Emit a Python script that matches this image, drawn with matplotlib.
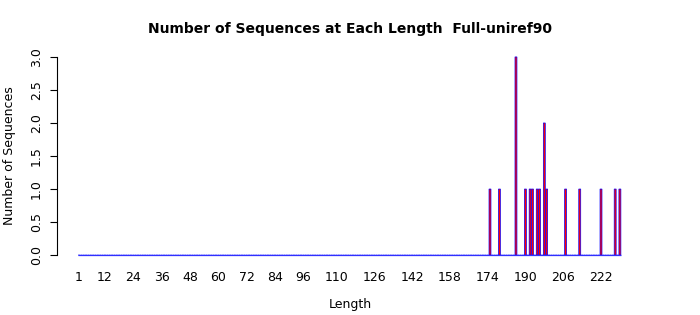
import numpy as np
import matplotlib
matplotlib.use("Agg")
import matplotlib.pyplot as plt

# lengths that have sequences, and how many
seq_lengths = [175, 179, 186, 190, 192, 193, 195, 196, 198, 199, 207, 213, 222, 228, 230]
seq_counts = [1, 1, 3, 1, 1, 1, 1, 1, 2, 1, 1, 1, 1, 1, 1]
max_len = 230
tick_labels = [1, 12, 24, 36, 48, 60, 72, 84, 96, 110, 126, 142, 158, 174, 190, 206, 222]
y_ticks = [0.0, 0.5, 1.0, 1.5, 2.0, 2.5, 3.0]

all_lengths = np.arange(1, max_len + 1)
all_counts = np.zeros(max_len)
for l, c in zip(seq_lengths, seq_counts):
    all_counts[l - 1] = c

fig = plt.figure(figsize=(7, 3.15), dpi=100)
ax = fig.add_axes([57 / 700, 52 / 315, 586 / 700, 214 / 315])

ax.bar(all_lengths, all_counts, width=0.83, color="red", edgecolor="blue",
       linewidth=0.5, snap=False)
# zero-height bars show up as a blue baseline
ax.hlines(0, all_lengths[0] - 0.42, all_lengths[-1] + 0.42, color="#3030ff",
          linewidth=0.9, zorder=3)

ax.set_xlim(1 - 22 / 2.362, 1 + 564 / 2.362)
ax.set_ylim(-0.12, 3.12)

for s in ["top", "right", "bottom"]:
    ax.spines[s].set_visible(False)
ax.spines["left"].set_bounds(0, 3)
ax.spines["left"].set_linewidth(0.8)

ax.set_yticks(y_ticks)
ax.set_yticklabels([f"{v:.1f}" for v in y_ticks], rotation=90, va="center", fontsize=9)
ax.tick_params(axis="y", direction="out", length=5, width=0.8, pad=5)

ax.set_xticks(tick_labels)
ax.set_xticklabels([str(t) for t in tick_labels], fontsize=9)
ax.tick_params(axis="x", length=0, pad=6)

ax.set_xlabel("Length", fontsize=9, labelpad=10)
ax.set_ylabel("Number of Sequences", fontsize=9, labelpad=10)
fig.suptitle("Number of Sequences at Each Length  Full-uniref90", fontsize=10,
             fontweight="bold", x=350 / 700, y=1 - 29 / 315, va="center")

fig.savefig("out.png", dpi=100)
